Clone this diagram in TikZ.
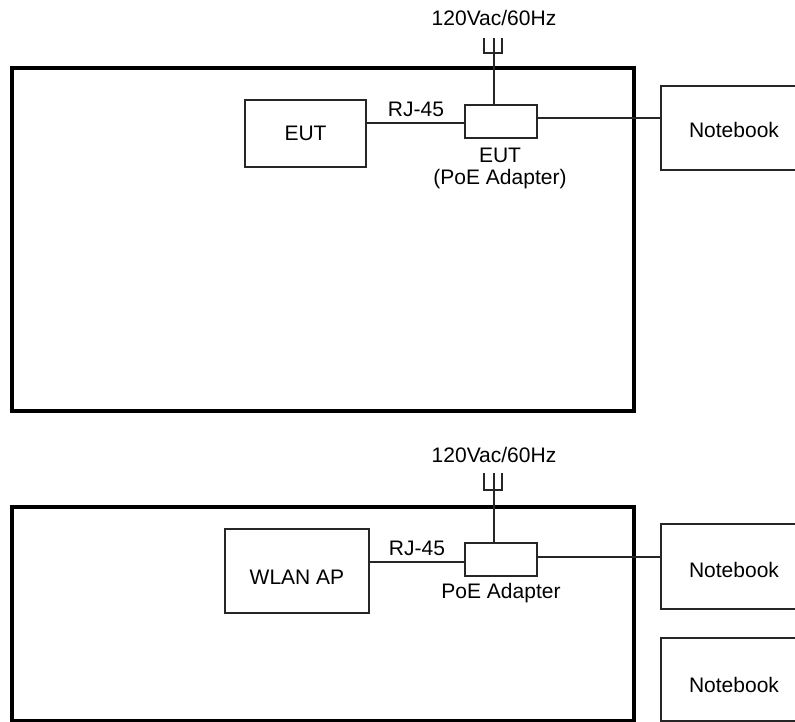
\documentclass[tikz,border=0pt]{standalone}
\usepackage{fontspec}
\setmainfont{Liberation Sans}
\begin{document}
\begin{tikzpicture}[x=1pt,y=-1pt,
  frame/.style={draw=black,line width=4pt},
  unitbox/.style={draw=black!85,line width=1.4pt,rectangle,inner sep=0pt,outer sep=0pt,
    font=\fontsize{21}{25}\selectfont},
  lbl/.style={inner sep=0pt,anchor=base,font=\fontsize{21}{25}\selectfont},
  wire/.style={draw=black!85,line width=1.4pt}]
\useasboundingbox (0,0) rectangle (795,722);
\clip (0,0) rectangle (795,722);

% enclosures
\draw[frame] (12,68) rectangle (634,411);
\draw[frame] (12,506.5) rectangle (634,721);

% ---------- top setup ----------
\node[unitbox,minimum width=121pt,minimum height=67pt] (eut) at (305.5,133.5) {EUT};
\node[unitbox,minimum width=72pt,minimum height=33pt] (poe1) at (501,121.5) {};
\node[unitbox,minimum width=146pt,minimum height=84pt] (nb1) at (734,128)
  {\raisebox{-2pt}[\height][\depth]{Notebook}};

\node[lbl] (v1) at (494,26) {120Vac/60Hz};
\node[lbl] (rj1) at (416,117) {RJ-45};
\node[lbl] (eutl) at (500,163) {EUT};
\node[lbl] (poel1) at (500,185) {(PoE Adapter)};

\coordinate (p1) at (494,38);
\draw[wire] (484,38) -- (484,53) -- (502,53) -- (502,38);
\draw[wire] (p1) -- (p1 |- poe1.north);

\coordinate (w1) at (0,123);
\coordinate (w2) at (0,118);
\draw[wire] (eut.east |- w1) -- (poe1.west |- w1);
\draw[wire] (poe1.east |- w2) -- (nb1.west |- w2);

% ---------- bottom setup ----------
\node[unitbox,minimum width=144pt,minimum height=84pt] (wlan) at (297,571)
  {\raisebox{-6pt}[\height][\depth]{WLAN AP}};
\node[unitbox,minimum width=72pt,minimum height=33pt] (poe2) at (501,559.5) {};
\node[unitbox,minimum width=146pt,minimum height=85pt] (nb2) at (734,566.5)
  {\raisebox{-3pt}[\height][\depth]{Notebook}};
\node[unitbox,minimum width=146pt,minimum height=83pt] (nb3) at (734,679.5)
  {\raisebox{-5pt}[\height][\depth]{Notebook}};

\node[lbl] (v2) at (494,462) {120Vac/60Hz};
\node[lbl] (rj2) at (417,555) {RJ-45};
\node[lbl] (poel2) at (501,598) {PoE Adapter};

\coordinate (p2) at (494,473);
\draw[wire] (484,473) -- (484,490) -- (502,490) -- (502,473);
\draw[wire] (p2) -- (p2 |- poe2.north);

\coordinate (w3) at (0,562);
\coordinate (w4) at (0,557);
\draw[wire] (wlan.east |- w3) -- (poe2.west |- w3);
\draw[wire] (poe2.east |- w4) -- (nb2.west |- w4);
\end{tikzpicture}
\end{document}
